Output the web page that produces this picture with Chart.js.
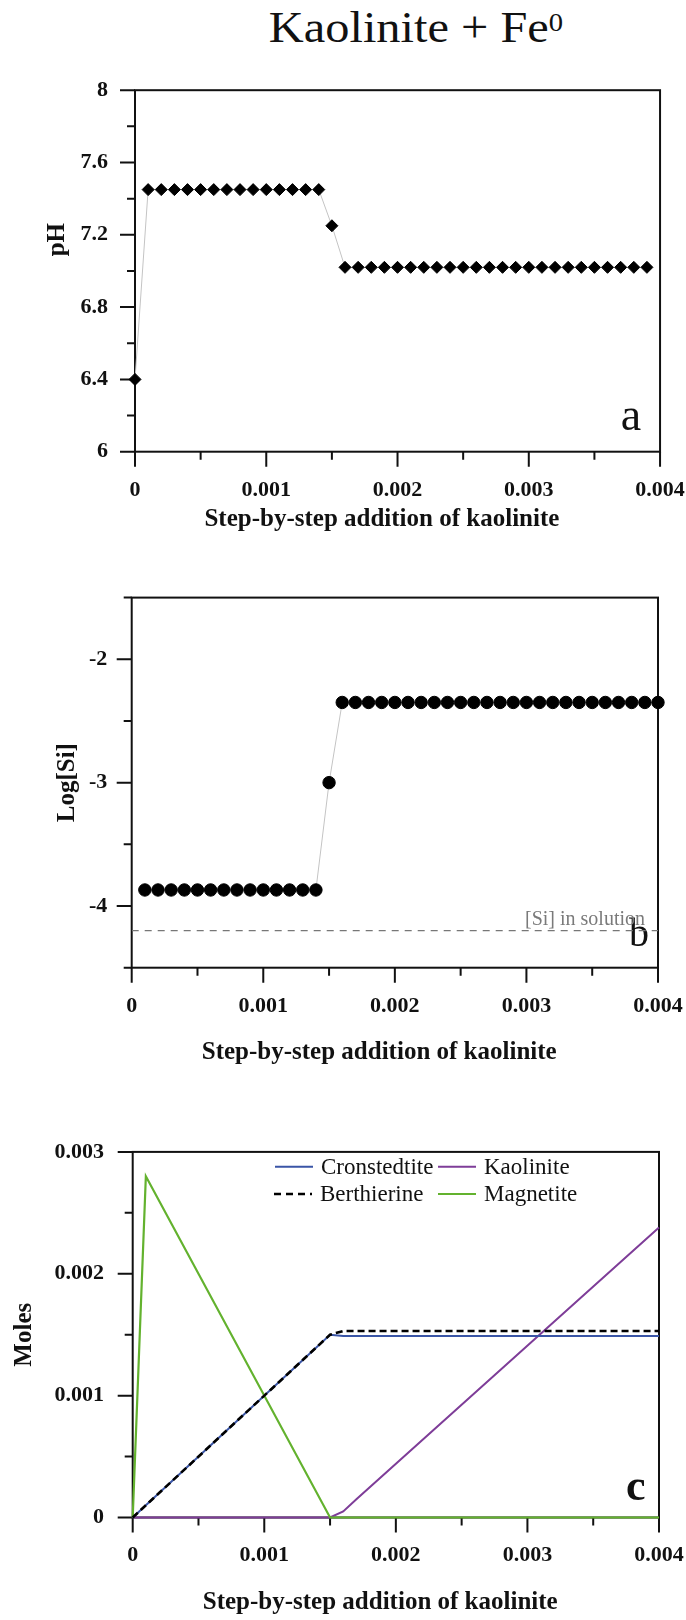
<!DOCTYPE html>
<html>
<head>
<meta charset="utf-8">
<title>Kaolinite + Fe0</title>
<script src="https://cdn.jsdelivr.net/npm/chart.js@4.4.1/dist/chart.umd.min.js"></script>
<style>
    html, body { margin: 0; padding: 0; background: #fff; overflow: hidden; }
    body { width: 686px; height: 1620px; position: relative; }
    #title {
        position: absolute; left: 0; top: 6px; width: 832px;
        text-align: center; color: #111;
        font-family: 'Liberation Serif', 'Times New Roman', 'DejaVu Serif', serif;
        font-size: 44px; line-height: 44px;
        transform: scaleX(1.1);
    }
    #title span { font-size: 26px; position: relative; top: -11px; }
    .panel { position: absolute; left: 0; width: 710px; }
</style>
</head>
<body>
<div id="title">Kaolinite + Fe<span>0</span></div>
<div class="panel" style="top:50px;height:500px"><canvas id="chartA"></canvas></div>
<div class="panel" style="top:560px;height:520px"><canvas id="chartB"></canvas></div>
<div class="panel" style="top:1110px;height:510px"><canvas id="chartC"></canvas></div>
<script>
// Eje x común (adición de caolinita)
const xTicks = [0, 0.001, 0.002, 0.003, 0.004];
const xMinor = [0.0005, 0.0015, 0.0025, 0.0035];

// Panel a: pH
const stepsA = [0, 0.0001, 0.0002, 0.0003, 0.0004, 0.0005, 0.0006, 0.0007, 0.0008, 0.0009,
    0.001, 0.0011, 0.0012, 0.0013, 0.0014, 0.0015, 0.0016, 0.0017, 0.0018, 0.0019,
    0.002, 0.0021, 0.0022, 0.0023, 0.0024, 0.0025, 0.0026, 0.0027, 0.0028, 0.0029,
    0.003, 0.0031, 0.0032, 0.0033, 0.0034, 0.0035, 0.0036, 0.0037, 0.0038, 0.0039];
const phValues = [6.4, 7.45, 7.45, 7.45, 7.45, 7.45, 7.45, 7.45, 7.45, 7.45,
    7.45, 7.45, 7.45, 7.45, 7.45, 7.25, 7.02, 7.02, 7.02, 7.02,
    7.02, 7.02, 7.02, 7.02, 7.02, 7.02, 7.02, 7.02, 7.02, 7.02,
    7.02, 7.02, 7.02, 7.02, 7.02, 7.02, 7.02, 7.02, 7.02, 7.02];
const phTicks = [6, 6.4, 6.8, 7.2, 7.6, 8];
const phMinor = [6.2, 6.6, 7.0, 7.4, 7.8];

// Panel b: Log[Si]
const stepsB = [0.0001, 0.0002, 0.0003, 0.0004, 0.0005, 0.0006, 0.0007, 0.0008, 0.0009, 0.001,
    0.0011, 0.0012, 0.0013, 0.0014, 0.0015, 0.0016, 0.0017, 0.0018, 0.0019, 0.002,
    0.0021, 0.0022, 0.0023, 0.0024, 0.0025, 0.0026, 0.0027, 0.0028, 0.0029, 0.003,
    0.0031, 0.0032, 0.0033, 0.0034, 0.0035, 0.0036, 0.0037, 0.0038, 0.0039, 0.004];
const logSi = [-3.87, -3.87, -3.87, -3.87, -3.87, -3.87, -3.87, -3.87, -3.87, -3.87,
    -3.87, -3.87, -3.87, -3.87, -3.0, -2.35, -2.35, -2.35, -2.35, -2.35,
    -2.35, -2.35, -2.35, -2.35, -2.35, -2.35, -2.35, -2.35, -2.35, -2.35,
    -2.35, -2.35, -2.35, -2.35, -2.35, -2.35, -2.35, -2.35, -2.35, -2.35];
const siSolution = -4.2;
const siTicks = [-4, -3, -2];
const siMinor = [-4.5, -3.5, -2.5, -1.5];

// Panel c: moles de minerales
const stepsC = [0, 0.0001, 0.0015, 0.0016, 0.0017, 0.004];
const cronstedtite = [0, 0.0001, 0.0015, 0.00149, 0.00149, 0.00149];
const berthierine = [0, 0.0001, 0.0015, 0.00153, 0.00153, 0.00153];
const kaolinite = [0, 0, 0, 0.00005, 0.00015, 0.00238];
const magnetite = [0, 0.0028, 0, 0, 0, 0];
const molesTicks = [0, 0.001, 0.002, 0.003];
const molesMinor = [0.0005, 0.0015, 0.0025];

const SERIF = "'Liberation Serif', 'Times New Roman', 'DejaVu Serif', serif";
const INK = '#111';
const tickFont = { family: SERIF, size: 22, weight: 'bold' };
const titleFont = { family: SERIF, size: 25, weight: 'bold' };
// espacios al final para desplazar el título un poco a la izquierda, como en el original
const xTitle = 'Step-by-step addition of kaolinite     ';

const pts = (xs, ys) => xs.map((x, i) => ({ x: x, y: ys[i] }));

// Marco, marcas mayores/menores y letra del panel
const framePlugin = {
    id: 'frame',
    beforeDatasetsDraw(chart, args, opts) {
        const { ctx, chartArea: a, scales: { x, y } } = chart;
        ctx.save();
        ctx.strokeStyle = INK;
        ctx.lineWidth = 2;
        ctx.strokeRect(a.left, a.top, a.right - a.left, a.bottom - a.top);
        ctx.beginPath();
        x.ticks.forEach(t => {
            const px = x.getPixelForValue(t.value);
            ctx.moveTo(px, a.bottom); ctx.lineTo(px, a.bottom + 15);
        });
        opts.xMinor.forEach(v => {
            const px = x.getPixelForValue(v);
            ctx.moveTo(px, a.bottom); ctx.lineTo(px, a.bottom + 8);
        });
        y.ticks.forEach(t => {
            const py = y.getPixelForValue(t.value);
            ctx.moveTo(a.left, py); ctx.lineTo(a.left - 15, py);
        });
        opts.yMinor.forEach(v => {
            const py = y.getPixelForValue(v);
            ctx.moveTo(a.left, py); ctx.lineTo(a.left - 8, py);
        });
        ctx.stroke();
        ctx.fillStyle = INK;
        ctx.font = opts.tagFont;
        ctx.textAlign = 'right';
        ctx.textBaseline = 'alphabetic';
        ctx.fillText(opts.tag, a.right - opts.tagDx, a.bottom - opts.tagDy);
        ctx.restore();
    }
};

// Texto "[Si] in solution" sobre la línea discontinua
const solutionPlugin = {
    id: 'solutionLabel',
    afterDatasetsDraw(chart, args, opts) {
        if (!opts.text) return;
        const { ctx, chartArea: a, scales: { y } } = chart;
        const py = y.getPixelForValue(opts.value);
        ctx.save();
        ctx.font = `20px ${SERIF}`;
        ctx.fillStyle = '#7a7a7a';
        ctx.textAlign = 'right';
        ctx.textBaseline = 'alphabetic';
        ctx.fillText(opts.text, a.right - 13, py - 6);
        ctx.restore();
    }
};

// Leyenda 2x2 dentro del gráfico c
const boxLegendPlugin = {
    id: 'boxLegend',
    afterDatasetsDraw(chart, args, opts) {
        if (!opts.items) return;
        const { ctx } = chart;
        ctx.save();
        ctx.font = `23px ${SERIF}`;
        ctx.textBaseline = 'middle';
        ctx.textAlign = 'left';
        opts.items.forEach(it => {
            const ds = chart.data.datasets.find(d => d.label === it.label);
            ctx.strokeStyle = ds.borderColor;
            ctx.lineWidth = ds.borderWidth;
            ctx.setLineDash(ds.borderDash ? [7, 5] : []);
            ctx.beginPath();
            ctx.moveTo(it.x, it.y); ctx.lineTo(it.x + 38, it.y);
            ctx.stroke();
            ctx.setLineDash([]);
            ctx.fillStyle = INK;
            ctx.fillText(ds.label, it.x + 46, it.y + 1);
        });
        ctx.restore();
    }
};

function xScale(height, labelPad, titlePad) {
    return {
        type: 'linear', min: 0, max: 0.004,
        grid: { display: false, drawTicks: false },
        border: { display: false },
        afterBuildTicks: s => { s.ticks = xTicks.map(v => ({ value: v })); },
        afterFit: s => { s.height = height; },
        ticks: { padding: labelPad, color: INK, font: tickFont, maxRotation: 0, autoSkip: false, callback: v => String(v) },
        title: { display: true, text: xTitle, color: INK, font: titleFont, padding: { top: 0, bottom: titlePad } }
    };
}

function yScale(min, max, tickList, width, labelPad, title, titlePad) {
    return {
        type: 'linear', min: min, max: max,
        grid: { display: false, drawTicks: false },
        border: { display: false },
        afterBuildTicks: s => { s.ticks = tickList.map(v => ({ value: v })); },
        afterFit: s => { s.width = width; },
        ticks: { padding: labelPad, color: INK, font: tickFont, autoSkip: false, callback: v => String(v) },
        title: { display: true, text: title, color: INK, font: titleFont, padding: { top: titlePad, bottom: 0 } }
    };
}

function baseOptions(padding, scales, pluginOpts) {
    return {
        responsive: true,
        maintainAspectRatio: false,
        animation: false,
        events: [],
        layout: { padding: padding },
        plugins: Object.assign({ legend: { display: false }, tooltip: { enabled: false } }, pluginOpts),
        scales: scales
    };
}

const plugins = [framePlugin, solutionPlugin, boxLegendPlugin];

// Gráfico a
new Chart(document.getElementById('chartA'), {
    type: 'line',
    data: {
        datasets: [{
            label: 'pH',
            data: pts(stepsA, phValues),
            borderColor: '#c4c4c4',
            borderWidth: 1,
            pointStyle: 'rectRot',
            pointRadius: 6,
            pointBorderWidth: 1,
            pointBackgroundColor: '#000',
            pointBorderColor: '#000',
            clip: false
        }]
    },
    options: baseOptions({ top: 24.5, right: 48, left: 0, bottom: 0 }, {
        x: xScale(98.3, 25.2, 15.1),
        // espacios iniciales: el título "pH" queda algo por encima del centro
        y: yScale(6, 8, phTicks, 135, 27, '          pH', 42.6)
    }, {
        frame: { xMinor: xMinor, yMinor: phMinor, tag: 'a', tagFont: `46px ${SERIF}`, tagDx: 19, tagDy: 21.7 }
    }),
    plugins: plugins
});

// Gráfico b
new Chart(document.getElementById('chartB'), {
    type: 'line',
    data: {
        datasets: [{
            label: 'Log[Si]',
            data: pts(stepsB, logSi),
            borderColor: '#c4c4c4',
            borderWidth: 1,
            pointStyle: 'circle',
            pointRadius: 6.2,
            pointBorderWidth: 1,
            pointBackgroundColor: '#000',
            pointBorderColor: '#000',
            clip: false
        }, {
            label: '[Si] in solution',
            data: pts([0, 0.004], [siSolution, siSolution]),
            borderColor: '#777',
            borderWidth: 1.3,
            borderDash: [7, 6],
            pointRadius: 0,
            order: 1
        }]
    },
    options: baseOptions({ top: 31.7, right: 52, left: 0, bottom: 0 }, {
        x: xScale(112.3, 25.2, 12.1),
        y: yScale(-4.5, -1.5, siTicks, 131.7, 24.4, 'Log[Si]', 52.1)
    }, {
        frame: { xMinor: xMinor, yMinor: siMinor, tag: 'b', tagFont: `40px ${SERIF}`, tagDx: 9, tagDy: 22 },
        solutionLabel: { value: siSolution, text: '[Si] in solution' }
    }),
    plugins: plugins
});

// Gráfico c
new Chart(document.getElementById('chartC'), {
    type: 'line',
    data: {
        datasets: [{
            label: 'Cronstedtite',
            data: pts(stepsC, cronstedtite),
            borderColor: '#3a55a6',
            borderWidth: 2,
            order: 1
        }, {
            label: 'Berthierine',
            data: pts(stepsC, berthierine),
            borderColor: '#000',
            borderWidth: 2.6,
            borderDash: [7, 4],
            order: 0
        }, {
            label: 'Kaolinite',
            data: pts(stepsC, kaolinite),
            borderColor: '#7e3d98',
            borderWidth: 2,
            order: 3
        }, {
            label: 'Magnetite',
            data: pts(stepsC, magnetite),
            borderColor: '#63b22e',
            borderWidth: 2.2,
            order: 2
        }].map(ds => Object.assign(ds, { pointRadius: 0, tension: 0, clip: false }))
    },
    options: baseOptions({ top: 32.7, right: 51, left: 0, bottom: 0 }, {
        x: xScale(102.5, 24.4, 2.1),
        y: yScale(0, 0.003, molesTicks, 132.7, 28.7, 'Moles', 9.1)
    }, {
        frame: { xMinor: xMinor, yMinor: molesMinor, tag: 'c', tagFont: `bold 44px ${SERIF}`, tagDx: 13.5, tagDy: 17.5 },
        boxLegend: {
            items: [
                { label: 'Cronstedtite', x: 275, y: 56.7 },
                { label: 'Kaolinite', x: 438, y: 56.7 },
                { label: 'Berthierine', x: 274, y: 84 },
                { label: 'Magnetite', x: 438, y: 84 }
            ]
        }
    }),
    plugins: plugins
});
</script>
</body>
</html>
